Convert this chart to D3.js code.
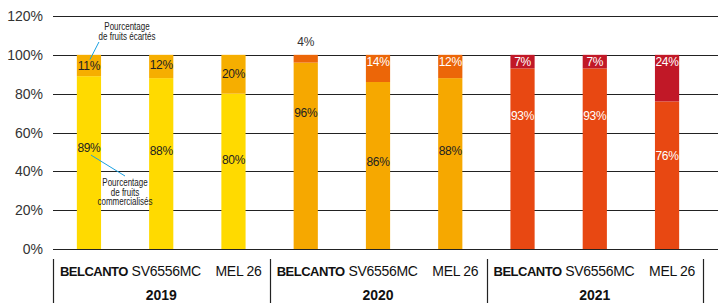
<!DOCTYPE html>
<html>
<head>
<meta charset="utf-8">
<script src="https://cdn.jsdelivr.net/npm/d3@7"></script>
<style>
  body { margin: 0; background: #fff; }
  svg { display: block; font-family: "Liberation Sans", Arial, sans-serif; }
</style>
</head>
<body>
<div id="chart"></div>
<script>
// data
const years = ["2019", "2020", "2021"];
const varieties = ["BELCANTO", "SV6556MC", "MEL 26"];
const commercialises = [89, 88, 80, 96, 86, 88, 93, 93, 76];
const ecartes = [11, 12, 20, 4, 14, 12, 7, 7, 24];
const yTicks = [0, 20, 40, 60, 80, 100, 120];
// where the value labels sit (in % units)
const commLabelAt = [52, 50.5, 46, 70, 45, 50.5, 68.5, 68.5, 48];
const ecartLabelAt = [94.5, 95, 90, 106.5, 96.5, 96.5, 96.5, 96.5, 96.5];

const width = 718, height = 303;
const svg = d3.select("#chart").append("svg")
    .attr("width", width)
    .attr("height", height);

// colours per year: [commercialisés, écartés]
const colors = {
  "2019": ["#FFDA00", "#F6AE00"],
  "2020": ["#F6A800", "#EC6608"],
  "2021": ["#E84812", "#C11827"]
};
const labelColors = {
  "2019": ["#222", "#222"],
  "2020": ["#222", "#fff"],
  "2021": ["#fff", "#fff"]
};

const rows = [];
years.forEach((yr, i) => varieties.forEach((v, j) => {
  const k = i * 3 + j;
  rows.push({ key: yr + "|" + v, year: yr, variety: v, comm: commercialises[k], ecart: ecartes[k],
              commAt: commLabelAt[k], ecartAt: ecartLabelAt[k] });
}));

const x = d3.scaleBand()
    .domain(rows.map(d => d.key))
    .range([53, 703])
    .paddingInner(0.665)
    .paddingOuter(0.33);

const y = d3.scaleLinear().domain([0, 120]).range([249, 16]);

// gridlines + tick labels
svg.append("g").selectAll("line")
  .data(yTicks)
  .join("line")
    .attr("x1", 53).attr("x2", width)
    .attr("y1", d => Math.round(y(d)) + 0.5).attr("y2", d => Math.round(y(d)) + 0.5)
    .attr("stroke", "#222").attr("stroke-width", 1);

svg.append("g").selectAll("text")
  .data(yTicks)
  .join("text")
    .attr("x", 43)
    .attr("y", d => y(d) + 5)
    .attr("text-anchor", "end")
    .attr("font-size", 14)
    .attr("fill", "#333")
    .text(d => d + "%");

// bars
const bars = svg.append("g").selectAll("g")
  .data(rows)
  .join("g");

bars.append("rect")
    .attr("x", d => x(d.key))
    .attr("width", x.bandwidth())
    .attr("y", d => y(d.comm))
    .attr("height", d => y(0) - y(d.comm))
    .attr("fill", d => colors[d.year][0]);

bars.append("rect")
    .attr("x", d => x(d.key))
    .attr("width", x.bandwidth())
    .attr("y", d => y(d.comm + d.ecart))
    .attr("height", d => y(d.comm) - y(d.comm + d.ecart))
    .attr("fill", d => colors[d.year][1]);

bars.append("text")
    .attr("x", d => x(d.key) + x.bandwidth() / 2)
    .attr("y", d => y(d.commAt) + 4)
    .attr("text-anchor", "middle")
    .attr("font-size", 12)
    .attr("letter-spacing", -0.3)
    .attr("fill", d => labelColors[d.year][0])
    .text(d => d.comm + "%");

bars.append("text")
    .attr("x", d => x(d.key) + x.bandwidth() / 2)
    .attr("y", d => y(d.ecartAt) + 4)
    .attr("text-anchor", "middle")
    .attr("font-size", 12)
    .attr("letter-spacing", -0.3)
    .attr("fill", d => d.ecartAt > 100 ? "#333" : labelColors[d.year][1])
    .text(d => d.ecart + "%");

// category axis
const cat = svg.append("g");
cat.selectAll("text.var")
  .data(rows)
  .join("text")
    .attr("class", "var")
    .attr("x", d => x(d.key) + x.bandwidth() / 2 + 5)
    .attr("y", 276)
    .attr("text-anchor", "middle")
    .attr("font-size", d => d.variety === "BELCANTO" ? 13 : 14)
    .attr("font-weight", d => d.variety === "BELCANTO" ? "bold" : "normal")
    .attr("letter-spacing", d => d.variety === "BELCANTO" ? -0.5 : -0.3)
    .attr("fill", "#111")
    .text(d => d.variety);

const yearStep = x.step() * 3;
cat.selectAll("text.year")
  .data(years)
  .join("text")
    .attr("class", "year")
    .attr("x", d => x(d + "|SV6556MC") + x.bandwidth() / 2)
    .attr("y", 300)
    .attr("text-anchor", "middle")
    .attr("font-size", 14)
    .attr("font-weight", "bold")
    .attr("fill", "#111")
    .text(d => d);

cat.selectAll("line")
  .data(d3.range(years.length + 1))
  .join("line")
    .attr("x1", i => Math.round(53 + i * yearStep) + 0.5)
    .attr("x2", i => Math.round(53 + i * yearStep) + 0.5)
    .attr("y1", 259).attr("y2", height)
    .attr("stroke", "#222").attr("stroke-width", 1.2);

// annotations
const note = svg.append("g")
    .attr("font-size", 10)
    .attr("fill", "#222")
    .attr("text-anchor", "middle");

const first = rows[0];
const bx = x(first.key) + x.bandwidth() / 2;

function noteText(tx, ty, s) {
  note.append("text")
      .attr("transform", `translate(${tx},${ty}) scale(0.8,1)`)
      .text(s);
}

note.append("line")
    .attr("x1", bx + 1).attr("y1", y(first.ecartAt) - 6)
    .attr("x2", bx + 10).attr("y2", 42)
    .attr("stroke", "#1BA1E2").attr("stroke-width", 1);
noteText(127, 30, "Pourcentage");
noteText(127, 40, "de fruits écartés");

note.append("line")
    .attr("x1", bx + 2).attr("y1", y(first.commAt) + 7)
    .attr("x2", 125).attr("y2", 176)
    .attr("stroke", "#1BA1E2").attr("stroke-width", 1);
noteText(125, 186, "Pourcentage");
noteText(125, 195.5, "de fruits");
noteText(125, 205, "commercialisés");
</script>
</body>
</html>
